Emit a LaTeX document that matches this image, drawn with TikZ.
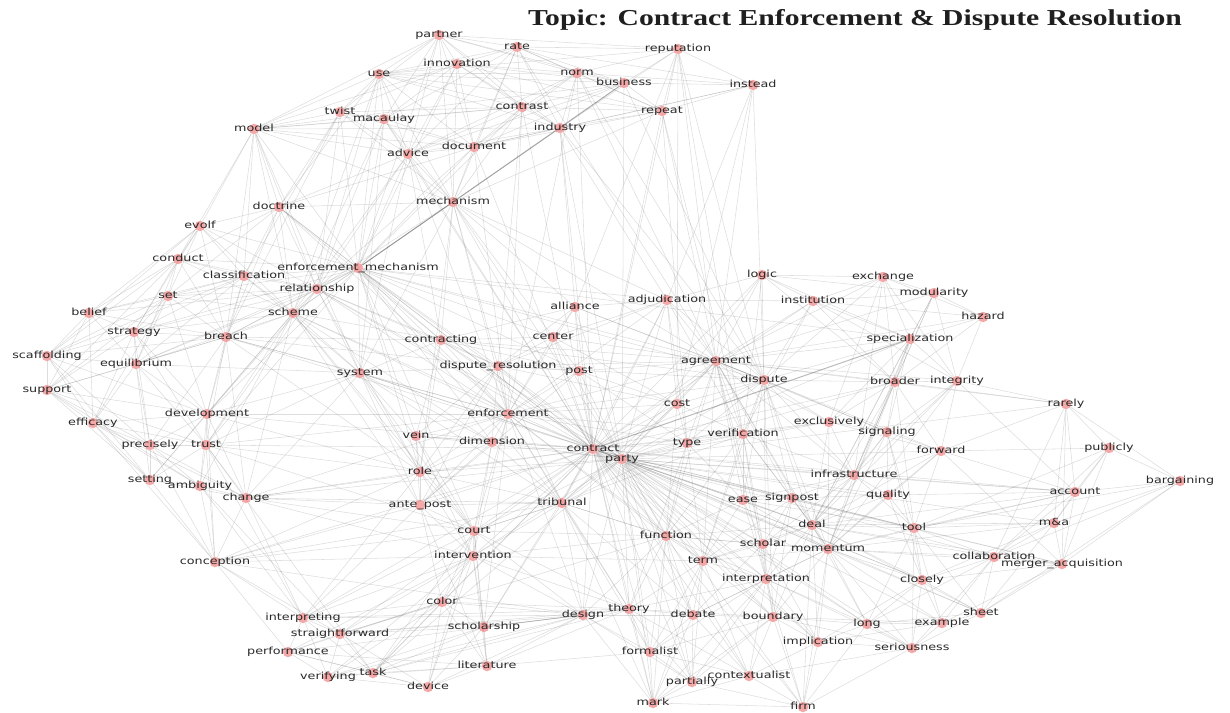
\documentclass[tikz,border=0pt]{standalone}
\usepackage{fontspec}
\usepackage{graphicx}
\usetikzlibrary{backgrounds}
\newfontfamily\lblfont{DejaVu Sans}
\newfontfamily\ttlfont{Liberation Serif}
\definecolor{dotred}{RGB}{238,110,110}
\definecolor{lbltext}{RGB}{40,40,40}
\newcommand\mknode[4]{\node[dot] (#1) at (#2,#3) {};\node[lbl] (#1-l) at (#2,#3) {\scalebox{1.3}[1]{#4}};}
\tikzset{
  dot/.style={circle, fill=dotred, fill opacity=0.6, draw=none, minimum size=10.5pt, inner sep=0pt},
  lbl/.style={font=\lblfont\fontsize{9.8}{10}\selectfont, text=lbltext, inner sep=0pt, text height=7pt, text depth=2pt},
  edge/.style={draw=black!60, opacity=0.22, line width=0.55pt},
  heavy/.style={draw=black!60, opacity=0.45, line width=1pt}
}
\begin{document}
\begin{tikzpicture}[x=1pt,y=-1pt]
\useasboundingbox (0,0) rectangle (1230,712);
\node[anchor=base, text=black!88, font=\ttlfont\bfseries\fontsize{22.8}{26}\selectfont] (title) at (855,25) {\scalebox{1.3}[1]{Topic: Contract Enforcement \& Dispute Resolution}};
% nodes
\mknode{partner}{439}{35}{partner}
\mknode{rate}{517}{47}{rate}
\mknode{innovation}{457}{64}{innovation}
\mknode{norm}{577}{73}{norm}
\mknode{business}{624}{83}{business}
\mknode{reputation}{678}{49}{reputation}
\mknode{instead}{753}{85}{instead}
\mknode{contrast}{522}{107}{contrast}
\mknode{repeat}{662}{111}{repeat}
\mknode{industry}{560}{128}{industry}
\mknode{document}{474}{147}{document}
\mknode{mechanism}{453}{202}{mechanism}
\mknode{advice}{408}{154}{advice}
\mknode{use}{379}{74}{use}
\mknode{twist}{340}{112}{twist}
\mknode{macaulay}{384}{119}{macaulay}
\mknode{model}{254}{129}{model}
\mknode{doctrine}{279}{207}{doctrine}
\mknode{evolf}{200}{226}{evolf}
\mknode{enfmech}{358}{268}{enforcement\_mechanism}
\mknode{relationship}{317}{289}{relationship}
\mknode{classification}{244}{276}{classification}
\mknode{conduct}{178}{259}{conduct}
\mknode{set}{168}{296}{set}
\mknode{belief}{89}{313}{belief}
\mknode{strategy}{134}{332}{strategy}
\mknode{breach}{226}{337}{breach}
\mknode{scheme}{293}{313}{scheme}
\mknode{scaffolding}{47}{356}{scaffolding}
\mknode{equilibrium}{136}{364}{equilibrium}
\mknode{support}{47}{390}{support}
\mknode{system}{360}{373}{system}
\mknode{development}{207}{414}{development}
\mknode{efficacy}{93}{423}{efficacy}
\mknode{precisely}{150}{445}{precisely}
\mknode{trust}{206}{445}{trust}
\mknode{setting}{150}{480}{setting}
\mknode{ambiguity}{200}{486}{ambiguity}
\mknode{change}{246}{498}{change}
\mknode{conception}{215}{562}{conception}
\mknode{interpreting}{303}{618}{interpreting}
\mknode{straightforward}{340}{634}{straightforward}
\mknode{performance}{288}{652}{performance}
\mknode{verifying}{328}{677}{verifying}
\mknode{task}{373}{673}{task}
\mknode{logic}{762}{275}{logic}
\mknode{adjudication}{667}{300}{adjudication}
\mknode{alliance}{575}{307}{alliance}
\mknode{institution}{813}{301}{institution}
\mknode{contracting}{441}{340}{contracting}
\mknode{ctr}{553}{337}{center}
\mknode{agreement}{716}{361}{agreement}
\mknode{dispres}{498}{366}{dispute\_resolution}
\mknode{post}{579}{371}{post}
\mknode{dispute}{764}{380}{dispute}
\mknode{cost}{677}{404}{cost}
\mknode{enforcement}{508}{414}{enforcement}
\mknode{vein}{416}{436}{vein}
\mknode{dimension}{492}{442}{dimension}
\mknode{verification}{743}{434}{verification}
\mknode{type}{687}{443}{type}
\mknode{contract}{593}{449}{contract}
\mknode{party}{622}{459}{party}
\mknode{role}{420}{472}{role}
\mknode{exchange}{883}{277}{exchange}
\mknode{modularity}{934}{293}{modularity}
\mknode{hazard}{983}{317}{hazard}
\mknode{specialization}{910}{339}{specialization}
\mknode{broader}{895}{382}{broader}
\mknode{integrity}{957}{381}{integrity}
\mknode{rarely}{1066}{404}{rarely}
\mknode{exclusively}{829}{422}{exclusively}
\mknode{signaling}{887}{432}{signaling}
\mknode{forward}{941}{451}{forward}
\mknode{publicly}{1109}{448}{publicly}
\mknode{infrastructure}{854}{475}{infrastructure}
\mknode{bargaining}{1180}{481}{bargaining}
\mknode{account}{1075}{492}{account}
\mknode{quality}{888}{495}{quality}
\mknode{ma}{1054}{523}{m\&a}
\mknode{tool}{914}{528}{tool}
\mknode{deal}{812}{525}{deal}
\mknode{momentum}{828}{549}{momentum}
\mknode{collaboration}{994}{557}{collaboration}
\mknode{mergeracq}{1062}{564}{merger\_acquisition}
\mknode{closely}{922}{580}{closely}
\mknode{sheet}{981}{613}{sheet}
\mknode{long}{867}{624}{long}
\mknode{example}{942}{623}{example}
\mknode{implication}{818}{642}{implication}
\mknode{seriousness}{912}{648}{seriousness}
\mknode{firm}{803}{707}{firm}
\mknode{ease}{743}{500}{ease}
\mknode{signpost}{792}{498}{signpost}
\mknode{scholar}{763}{544}{scholar}
\mknode{function}{666}{536}{function}
\mknode{term}{703}{561}{term}
\mknode{anteppost}{420}{505}{ante\_post}
\mknode{tribunal}{562}{503}{tribunal}
\mknode{court}{474}{531}{court}
\mknode{intervention}{473}{556}{intervention}
\mknode{interpretation}{766}{579}{interpretation}
\mknode{color}{442}{602}{color}
\mknode{theory}{629}{609}{theory}
\mknode{design}{583}{615}{design}
\mknode{debate}{693}{615}{debate}
\mknode{boundary}{773}{617}{boundary}
\mknode{scholarship}{484}{627}{scholarship}
\mknode{formalist}{650}{652}{formalist}
\mknode{literature}{487}{666}{literature}
\mknode{contextualist}{749}{676}{contextualist}
\mknode{partially}{692}{682}{partially}
\mknode{device}{428}{687}{device}
\mknode{mark}{653}{703}{mark}
% edges
\begin{pgfonlayer}{background}
\foreach \s/\ts in {
partner/{rate,innovation,use,norm,business,reputation,twist,macaulay,advice,document,contrast,industry,mechanism,model,enfmech},
rate/{innovation,norm,business,reputation,contrast,industry,document,use,macaulay,repeat,instead,mechanism,advice,agreement},
innovation/{use,norm,business,contrast,document,industry,twist,macaulay,advice,mechanism,model,repeat,enfmech},
norm/{business,reputation,instead,contrast,industry,repeat,document,use,advice,dispute,agreement,contract,enforcement},
business/{reputation,instead,repeat,industry,contrast,use,document,advice,model,dispute,party},
reputation/{instead,repeat,industry,agreement,dispute,contract,cost,verification,alliance,use},
instead/{repeat,industry,agreement,dispute,adjudication,cost,document},
repeat/{industry,contrast,document,agreement,mechanism,contract,type,verification,use},
contrast/{industry,document,use,twist,macaulay,advice,mechanism,model,enfmech,contract,enforcement,dispres},
industry/{document,use,advice,mechanism,enfmech,contract,party,dispute,adjudication,alliance,model},
document/{use,twist,macaulay,advice,mechanism,model,enfmech,relationship,doctrine,contract,enforcement},
use/{twist,macaulay,advice,model,mechanism,doctrine,enfmech,relationship,scheme},
twist/{macaulay,advice,model,mechanism,doctrine,enfmech,relationship,classification,breach},
macaulay/{advice,model,mechanism,enfmech,relationship,scheme,contract,system},
advice/{model,mechanism,enfmech,relationship,doctrine,scheme,contracting,enforcement,contract,system},
model/{doctrine,evolf,enfmech,relationship,scheme,breach,mechanism,classification,conduct,system},
mechanism/{enfmech,relationship,doctrine,scheme,contracting,dispres,enforcement,contract,party,system,ctr,alliance,adjudication,agreement,role},
doctrine/{evolf,enfmech,relationship,classification,conduct,set,breach,scheme,contracting,enforcement,contract},
evolf/{conduct,classification,set,belief,enfmech,relationship,strategy,scaffolding,breach,scheme},
enfmech/{relationship,classification,conduct,set,scheme,breach,system,contracting,dispres,enforcement,contract,party,agreement,tribunal,court,role,vein,dimension,ctr,post,strategy,equilibrium,development,trust,dispute,adjudication,specialization},
relationship/{classification,conduct,set,scheme,breach,system,contracting,enforcement,contract,strategy,belief,equilibrium,development,trust,role,dispres,party},
classification/{conduct,set,belief,strategy,breach,scheme,equilibrium,scaffolding,development,system},
conduct/{set,belief,strategy,scaffolding,breach,scheme,equilibrium,support},
set/{belief,strategy,scaffolding,equilibrium,breach,scheme,support,efficacy,development},
belief/{strategy,scaffolding,equilibrium,support,breach,efficacy},
strategy/{scaffolding,equilibrium,support,breach,scheme,efficacy,development,precisely,trust},
breach/{scheme,equilibrium,system,contracting,development,trust,precisely,change,role,enforcement,contract,dispres,support,scaffolding},
scheme/{system,contracting,development,trust,equilibrium,change,role,enforcement,contract,court,anteppost,dimension,setting,ambiguity},
scaffolding/{support,equilibrium,efficacy,precisely,setting,development},
equilibrium/{support,efficacy,precisely,development,trust,system,setting},
support/{efficacy,precisely,development,setting,ambiguity,trust},
system/{contracting,dispres,enforcement,contract,role,vein,dimension,anteppost,development,trust,change,court,tribunal,party},
development/{efficacy,precisely,trust,setting,ambiguity,change,conception,role,enforcement,contract},
efficacy/{precisely,trust,setting,ambiguity,conception,change},
precisely/{trust,setting,ambiguity,change,conception},
trust/{setting,ambiguity,change,conception,role,enforcement,contract,court,interpreting,task},
setting/{ambiguity,change,conception},
ambiguity/{change,conception,interpreting,straightforward},
change/{conception,interpreting,role,anteppost,enforcement,contract,court,intervention,tribunal,party},
conception/{interpreting,performance,straightforward,court,intervention,anteppost,role,contract,tribunal,design},
interpreting/{straightforward,performance,verifying,task,color,intervention,court,role,anteppost,contract,design,theory},
straightforward/{performance,verifying,task,device,color,scholarship,intervention,design,theory,contract,function},
performance/{verifying,task,device,color,intervention,design,literature},
verifying/{task,device,color,scholarship,literature,intervention,design},
task/{device,color,scholarship,literature,intervention,court,design,theory,contract,party},
device/{color,scholarship,literature,intervention,design,court},
color/{scholarship,literature,intervention,court,design,theory,anteppost,contract},
scholarship/{literature,intervention,court,design,theory,contract,tribunal,enforcement},
literature/{intervention,court,design,theory,formalist,anteppost},
intervention/{court,anteppost,role,tribunal,contract,party,enforcement,design,theory,function,term,dimension,vein},
court/{anteppost,role,tribunal,contract,party,enforcement,dimension,vein,function,design,theory},
anteppost/{role,vein,tribunal,contract,enforcement,dimension,dispres,post},
role/{vein,dimension,enforcement,contract,party,dispres,contracting,tribunal},
vein/{dimension,enforcement,contract,party,dispres,contracting},
dimension/{enforcement,contract,party,dispres,tribunal},
contracting/{dispres,enforcement,contract,party,ctr,alliance,post,agreement,dispute},
dispres/{enforcement,contract,party,ctr,post,alliance,agreement,cost,tribunal,adjudication,dispute},
enforcement/{contract,party,ctr,post,alliance,agreement,cost,type,tribunal,function,verification,dispute,adjudication,term,theory,design},
ctr/{alliance,post,contract,party,agreement,adjudication,cost},
alliance/{post,adjudication,agreement,contract,party,dispute},
post/{contract,party,agreement,cost,type},
adjudication/{agreement,logic,dispute,cost,contract,party,verification,institution,type,tribunal},
logic/{institution,exchange,agreement,dispute,specialization,modularity,verification,broader,contract,party},
institution/{exchange,modularity,specialization,agreement,dispute,hazard,broader,integrity,verification,contract},
exchange/{modularity,hazard,specialization,broader,integrity,agreement,dispute,infrastructure,exclusively},
modularity/{hazard,specialization,broader,integrity,agreement,infrastructure,deal},
hazard/{specialization,integrity,broader,agreement},
specialization/{broader,integrity,agreement,dispute,exclusively,signaling,infrastructure,deal,momentum,party},
agreement/{dispute,cost,type,verification,contract,party,exclusively,broader,integrity,signaling,infrastructure,deal,momentum,ease,signpost,scholar,function,term,tribunal,interpretation,rarely,forward},
dispute/{cost,type,verification,contract,party,broader,exclusively,signaling,infrastructure,deal,momentum,ease,signpost,interpretation,boundary,term},
broader/{integrity,exclusively,signaling,forward,infrastructure,deal,momentum,rarely,contract,party,tool},
integrity/{signaling,forward,rarely,infrastructure,deal,account,momentum},
exclusively/{signaling,forward,infrastructure,deal,momentum,contract,party,verification},
signaling/{forward,infrastructure,deal,momentum,quality,tool,closely},
forward/{publicly,rarely,infrastructure,quality,tool,deal,momentum,account,mergeracq,party},
rarely/{publicly,bargaining,account,ma,mergeracq,collaboration,party},
publicly/{bargaining,account,ma,mergeracq,collaboration,tool},
bargaining/{account,ma,mergeracq,collaboration,tool,sheet},
account/{ma,mergeracq,collaboration,tool,deal,momentum,quality,infrastructure,contract,party},
ma/{mergeracq,collaboration,tool,deal,momentum,sheet,closely,party},
mergeracq/{collaboration,sheet,tool,deal,momentum,closely,example,party},
collaboration/{sheet,tool,closely,deal,momentum,example,seriousness,long,party},
infrastructure/{quality,deal,momentum,tool,signpost,contract,party,ease,scholar,verification},
quality/{tool,deal,momentum,closely,party,signpost},
tool/{deal,momentum,closely,sheet,example,long,seriousness,party,contract,signpost,ease},
deal/{momentum,signpost,ease,scholar,contract,party,closely,sheet,long,implication,interpretation,boundary,term,function,verification,firm},
momentum/{signpost,ease,scholar,contract,party,closely,sheet,long,example,seriousness,implication,interpretation,boundary,firm,term,function,debate},
closely/{sheet,long,example,seriousness,implication,party},
sheet/{example,long,seriousness},
long/{example,seriousness,implication,boundary,interpretation,firm},
example/{seriousness,implication,boundary},
seriousness/{implication,boundary,firm,contextualist,interpretation},
implication/{boundary,interpretation,contextualist,firm,scholar},
verification/{type,cost,contract,party,ease,signpost,scholar,function,term,interpretation,tribunal},
type/{cost,contract,party,ease,function,term,tribunal,theory},
cost/{contract,party,tribunal,function},
contract/{tribunal,function,term,theory,design,debate,formalist,ease,signpost,scholar,interpretation,boundary,mark,partially,contextualist,firm,implication,long},
party/{tribunal,function,term,theory,design,debate,formalist,ease,signpost,scholar,interpretation,boundary,mark,partially,contextualist,firm,implication,long,seriousness,example,closely,sheet},
ease/{signpost,scholar,function,term,interpretation},
signpost/{scholar,interpretation,boundary,term},
scholar/{term,interpretation,boundary,debate,function},
function/{term,theory,design,debate,formalist,tribunal,interpretation,mark,partially},
term/{theory,debate,interpretation,boundary,formalist,contextualist,partially,mark},
tribunal/{theory,design,debate,formalist,mark,function,court},
interpretation/{boundary,debate,contextualist,partially,formalist,firm,mark,theory},
theory/{design,debate,formalist,mark,partially,contextualist,boundary},
design/{debate,formalist,mark,partially,scholarship},
debate/{boundary,formalist,contextualist,partially,mark},
boundary/{contextualist,partially,firm,mark,formalist},
formalist/{mark,partially,contextualist},
contextualist/{partially,mark,firm},
partially/{mark,firm},
mark/{firm}}{\foreach \t in \ts {\draw[edge] (\s) -- (\t);}}
\draw[heavy] (enfmech) -- (business);
\draw[heavy] (contract) -- (party);
\draw[heavy] (specialization) -- (contract);
\end{pgfonlayer}
\end{tikzpicture}
\end{document}
